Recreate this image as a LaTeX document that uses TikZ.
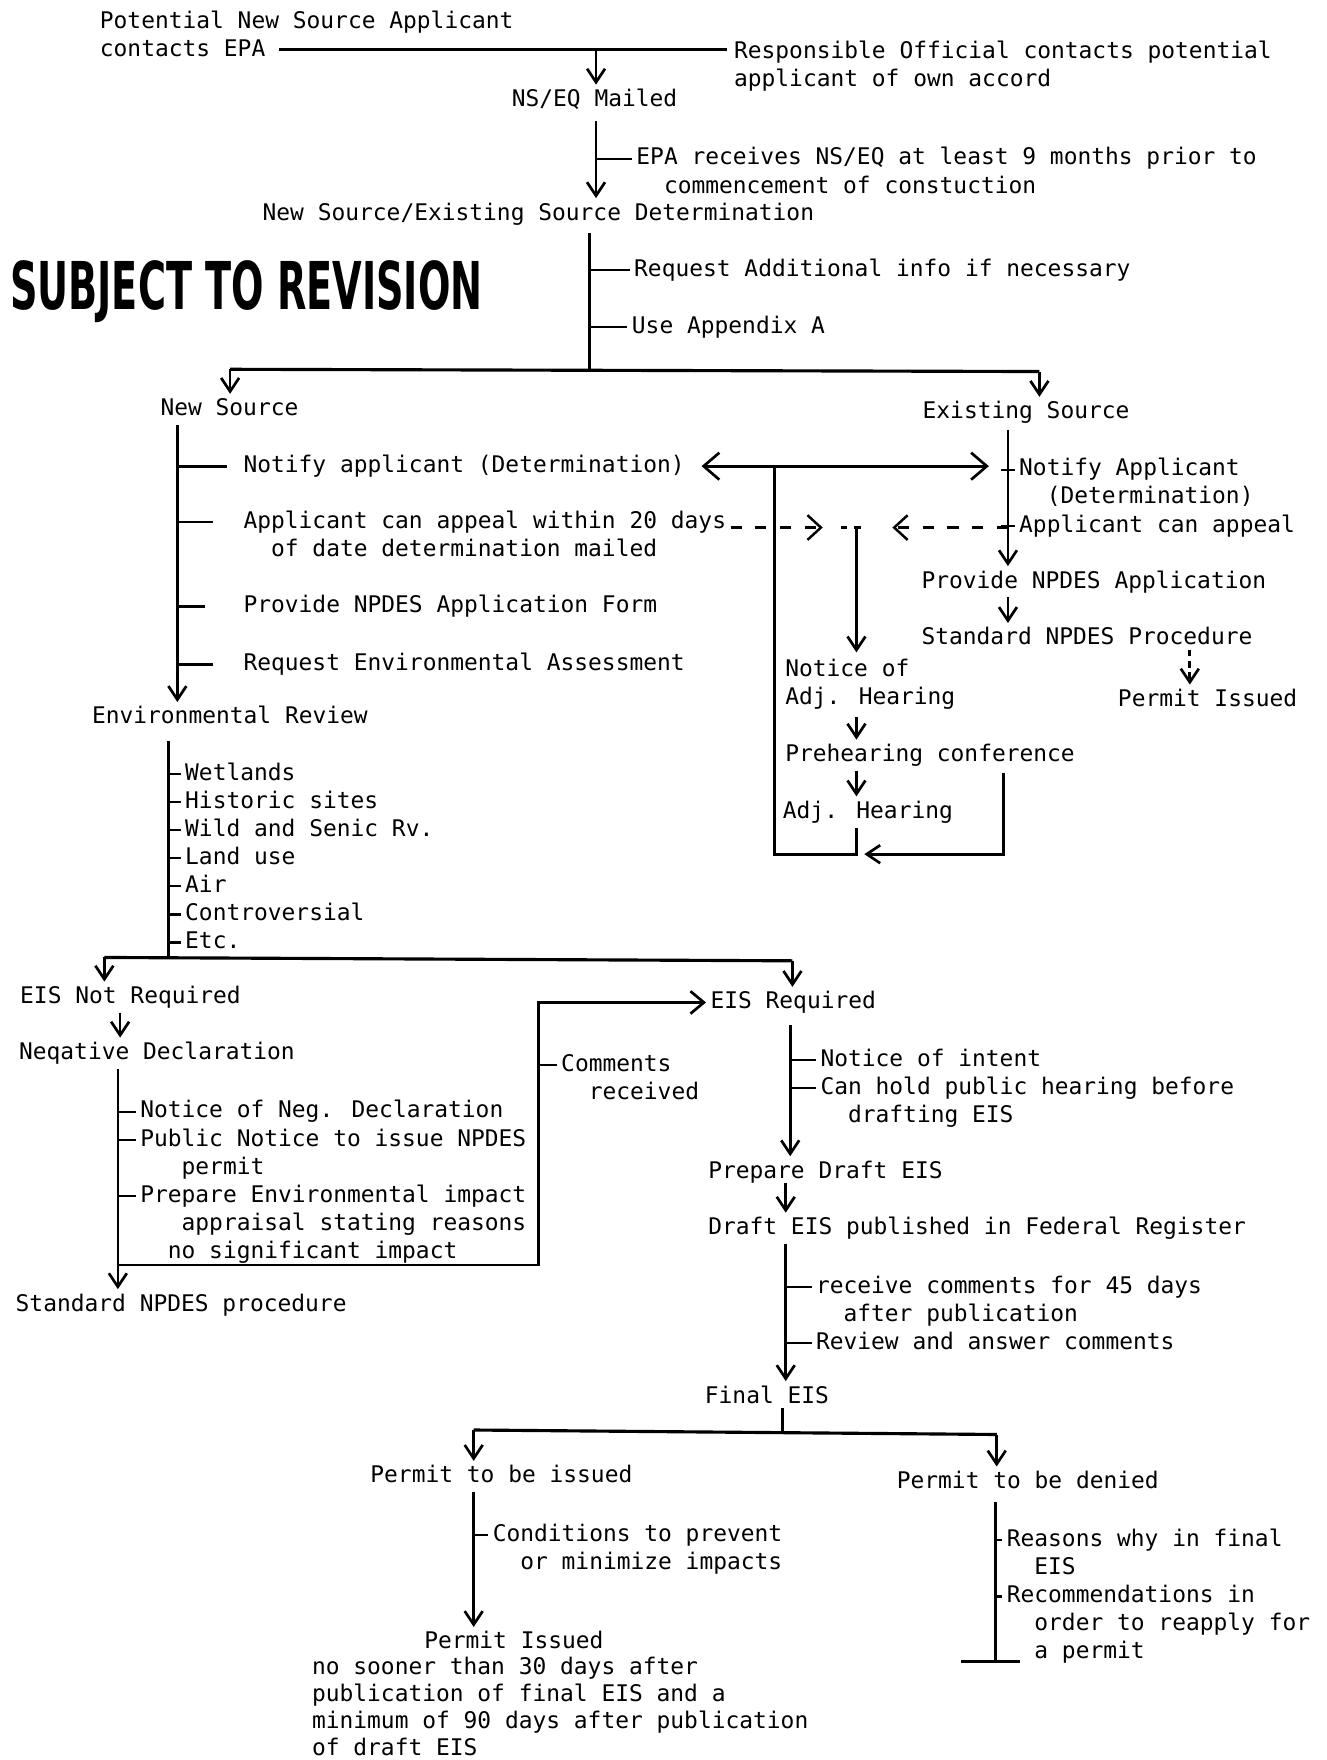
\documentclass[tikz,border=0pt]{standalone}
\usepackage{fontspec}
\usepackage{graphicx}
\setmainfont{DejaVu Sans Mono}
\newfontfamily\stampfont{DejaVu Sans Condensed}
\usetikzlibrary{arrows.meta}
\newlength\charw
\setlength\charw{6.14pt}
\newcommand\ind[1]{\hspace*{#1\charw}}
\newcommand\ml[1]{\begin{tabular}[t]{@{}l@{}}#1\end{tabular}}
\tikzset{
  txt/.style={anchor=base west, inner sep=0pt, outer sep=2pt, xshift=-2pt},
  trunk/.style={line width=1.4pt},
  twig/.style={line width=1.1pt},
  arr/.style={line width=1.2pt, -{Straight Barb[length=6pt,width=8pt]}},
  bigtip/.style={line width=1.2pt, -{Straight Barb[length=6pt,width=10pt]}},
  dashln/.style={line width=1.1pt, dash pattern=on 5pt off 6pt, -{Straight Barb[length=6pt,width=11pt]}},
}
\begin{document}
\begin{tikzpicture}[x=0.5pt, y=-0.5pt, font=\fontsize{10.2}{12.5}\selectfont]
\fill[white] (0,0) rectangle (1182,1568);
\useasboundingbox (0,0) rectangle (1182,1568);

% top part
\node[txt] (applicant) at (89,25) {\ml{Potential New Source Applicant\\contacts EPA}};
\node[txt] (official) at (654,52) {\ml{Responsible Official contacts potential\\applicant of own accord}};
\node[txt] (mailed) at (456,95) {NS/EQ Mailed};
\node[txt] (receipt) at (567,147) {\ml{EPA receives NS/EQ at least 9 months prior to\\\ind{2}commencement of constuction}};
\node[txt] (determ) at (234,196) {New Source/Existing Source Determination};
\node[txt] (addinfo) at (565,246) {Request Additional info if necessary};
\node[txt] (appx) at (563,297) {Use Appendix A};
\node[inner sep=0pt] (stamp) at (219.5,260) {\resizebox{210.5pt}{21.8pt}{\stampfont\bfseries SUBJECT TO REVISION}};

\coordinate (epa) at (249,44);
\coordinate (own) at (648,44);
\coordinate (contact) at (531,44);
\coordinate (det1) at (531,108);
\coordinate (det2) at (525,208);
\coordinate (split) at (525,330);
\coordinate (nsdrop) at (205,329);
\coordinate (esdrop) at (926,331);

\draw[trunk] (epa) -- (own);
\draw[arr] (contact) -- (contact |- mailed.north);
\draw[arr] (det1) -- (det1 |- determ.north);
\draw[twig] (det1 |- receipt.mid west) -- (receipt.mid west);
\draw[trunk] (det2) -- (split);
\draw[twig] (det2 |- addinfo.mid west) -- (addinfo.mid west);
\draw[twig] (det2 |- appx.mid west) -- (appx.mid west);
\draw[trunk] (nsdrop) -- (esdrop);

% new source
\node[txt] (newsrc) at (143,370) {New Source};
\node[txt] (notify) at (217,421) {Notify applicant (Determination)};
\node[txt] (appeal) at (217,470.5) {\ml{Applicant can appeal within 20 days\\\ind{2}of date determination mailed}};
\node[txt] (form) at (217,546) {Provide NPDES Application Form};
\node[txt] (assess) at (217,597.4) {Request Environmental Assessment};
\node[txt] (envrev) at (82,645) {Environmental Review};
\draw[arr] (nsdrop) -- (nsdrop |- newsrc.north);

\coordinate (nstrunk) at (158,379);
\draw[arr] (nstrunk) -- (nstrunk |- envrev.north);
\draw[twig] (nstrunk |- notify.mid west) -- ++(44,0);
\draw[twig] (nstrunk |- appeal.mid west) -- ++(32,0);
\draw[twig] (nstrunk |- form.mid west) -- ++(25,0);
\draw[twig] (nstrunk |- assess.mid west) -- ++(32,0);

\coordinate (ertrunk) at (150,660);
\coordinate (erjoin) at (150,853);
\draw[trunk] (ertrunk) -- (erjoin);
\foreach \f [count=\k] in {Wetlands, Historic sites, Wild and Senic Rv., Land use, Air, Controversial, Etc.}{
  \node[txt] (f\k) at (165,670+25*\k) {\f};
  \draw[twig] (f\k.mid west -| ertrunk) -- (f\k.mid west);
}

% EIS decision
\coordinate (nrdrop) at (93,853);
\coordinate (rqdrop) at (706,856);
\coordinate (nddrop) at (107,900);
\coordinate (negtop) at (105,952);
\coordinate (negjoin) at (105,1127);
\coordinate (cmbottom) at (480,1127);
\node[txt] (notreq) at (18,894) {EIS Not Required};
\node[txt] (negdec) at (17,944) {Neqative Declaration};
\node[txt] (negsteps) at (125,996) {\ml{Notice of Neg. Declaration\\Public Notice to issue NPDES\\\ind{3}permit\\Prepare Environmental impact\\\ind{3}appraisal stating reasons\\\ind{2}no significant impact}};
\node[txt] (stdproc) at (14,1168) {Standard NPDES procedure};
\node[txt] (comments) at (500,954.5) {\ml{Comments\\\ind{2}received}};
\node[txt] (eisreq) at (633,898.7) {EIS Required};

\draw[trunk] (nrdrop) -- (rqdrop);
\draw[arr] (nrdrop) -- (nrdrop |- notreq.north);
\draw[arr] (rqdrop) -- (rqdrop |- eisreq.north);
\draw[arr] (notreq.south -| nddrop) -- (nddrop |- negdec.north);
\draw[arr] (negtop) -- (negtop |- stdproc.north);
\foreach \k in {0,1,3}
  \draw[twig] ([yshift=-12.5*\k pt]negsteps.mid west) -- +(-8pt,0);
\draw[bigtip] (negjoin) -- (cmbottom) -- (cmbottom |- eisreq.west) -- (eisreq.west);
\draw[twig] (cmbottom |- comments.mid west) -- (comments.mid west);

% EIS required
\coordinate (eistrunk) at (704,913);
\coordinate (drtrunk) at (700,1054);
\coordinate (pubtrunk) at (700,1108);
\node[txt] (intent) at (731,950) {\ml{Notice of intent\\Can hold public hearing before\\\ind{2}drafting EIS}};
\node[txt] (prepdraft) at (631,1049.6) {Prepare Draft EIS};
\node[txt] (published) at (631,1100) {Draft EIS published in Federal Register};
\node[txt] (review) at (727,1152) {\ml{receive comments for 45 days\\\ind{2}after publication\\Review and answer comments}};
\node[txt] (finaleis) at (628,1250) {Final EIS};
\draw[arr] (eistrunk) -- (eistrunk |- prepdraft.north);
\foreach \k in {0,1}
  \draw[twig] ([yshift=-12.5*\k pt]intent.mid west) -- +(-11pt,0);
\draw[arr] (drtrunk) -- (drtrunk |- published.north);
\draw[arr] (pubtrunk) -- (pubtrunk |- finaleis.north);
\foreach \k in {0,2}
  \draw[twig] ([yshift=-12.5*\k pt]review.mid west) -- +(-11pt,0);

% final decision
\coordinate (fjoin) at (697,1275);
\coordinate (pidrop) at (422,1274);
\coordinate (pddrop) at (888,1278);
\coordinate (pitrunk) at (422,1329);
\coordinate (pdtrunk) at (887,1338);
\coordinate (pdend) at (887,1480);
\node[txt] (tobeissued) at (330,1321) {Permit to be issued};
\node[txt] (tobedenied) at (799,1326) {Permit to be denied};
\node[txt] (conditions) at (439,1373) {\ml{Conditions to prevent\\\ind{2}or minimize impacts}};
\node[txt] (issued) at (378,1469) {Permit Issued};
\node[txt] (sooner) at (278,1492) {\ml{no sooner than 30 days after\\[-0.5pt]publication of final EIS and a\\[-0.5pt]minimum of 90 days after publication\\[-0.5pt]of draft EIS}};
\node[txt] (reasons) at (897,1377.6) {\ml{Reasons why in final\\\ind{2}EIS\\Recommendations in\\\ind{2}order to reapply for\\\ind{2}a permit}};
\draw[trunk] (finaleis.south -| fjoin) -- (fjoin);
\draw[trunk] (pidrop) -- (pddrop);
\draw[arr] (pidrop) -- (pidrop |- tobeissued.north);
\draw[arr] (pddrop) -- (pddrop |- tobedenied.north);
\draw[arr] (pitrunk) -- (pitrunk |- issued.north);
\draw[twig] (pitrunk |- conditions.mid west) -- (conditions.mid west);
\draw[trunk] (pdtrunk) -- (pdend);
\draw[trunk] ([xshift=-15.5pt]pdend) -- ([xshift=11pt]pdend);
\foreach \k in {0,2}
  \draw[twig] ([yshift=-12.5*\k pt]reasons.mid west) -- +(-3pt,0);

% existing source
\coordinate (estrunk) at (898,383);
\coordinate (hear) at (763,470);
\coordinate (adjx) at (690,761);
\coordinate (prex) at (894,689);
\coordinate (exdrop) at (1060,582);
\node[txt] (exsrc) at (822,373) {Existing Source};
\node[txt] (exnotify) at (908,424) {\ml{Notify Applicant\\\ind{2}(Determination)\\Applicant can appeal}};
\node[txt] (provapp) at (821,524) {Provide NPDES Application};
\node[txt] (stdproc2) at (821,574.5) {Standard NPDES Procedure};
\node[txt] (exissued) at (996,629.4) {Permit Issued};
\node[txt] (noticeadj) at (699.6,602.7) {\ml{Notice of\\Adj. Hearing}};
\node[txt] (prehearing) at (699.6,678.4) {Prehearing conference};
\node[txt] (adjhearing) at (697.5,729) {Adj. Hearing};
\draw[arr] (esdrop) -- (esdrop |- exsrc.north);
\draw[arr] (estrunk) -- (estrunk |- provapp.north);
\foreach \k in {0,2}
  \draw[twig] ([yshift=-12.5*\k pt]exnotify.mid west) -- +(-6pt,0);
\draw[arr] (provapp.south -| estrunk) -- (estrunk |- stdproc2.north);
\draw[arr, densely dashed] (stdproc2.south -| exdrop) -- (exdrop |- exissued.north);

% adjudicatory hearing
\draw[line width=1.2pt, {Straight Barb[length=7pt,width=12pt]}-{Straight Barb[length=7pt,width=12pt]}, shorten <=5.5pt, shorten >=8.5pt] (notify.east) -- (notify.east -| estrunk);
\draw[dashln] (appeal.east |- hear) -- ([xshift=-15pt]hear);
\draw[dashln] (estrunk |- hear) -- ([xshift=16pt]hear);
\draw[twig, dashed] ([xshift=-7pt]hear) -- ([xshift=4.5pt]hear);
\draw[arr] (hear) -- (hear |- noticeadj.north);
\draw[arr] (hear |- noticeadj.south) -- (hear |- prehearing.north);
\draw[arr] (hear |- prehearing.south) -- (hear |- adjhearing.north);
\draw[trunk] (notify.east -| adjx) -- (adjx) -| (hear |- adjhearing.south);
\draw[arr, shorten >=3.5pt] (prex) |- (adjx -| hear);
\end{tikzpicture}
\end{document}
